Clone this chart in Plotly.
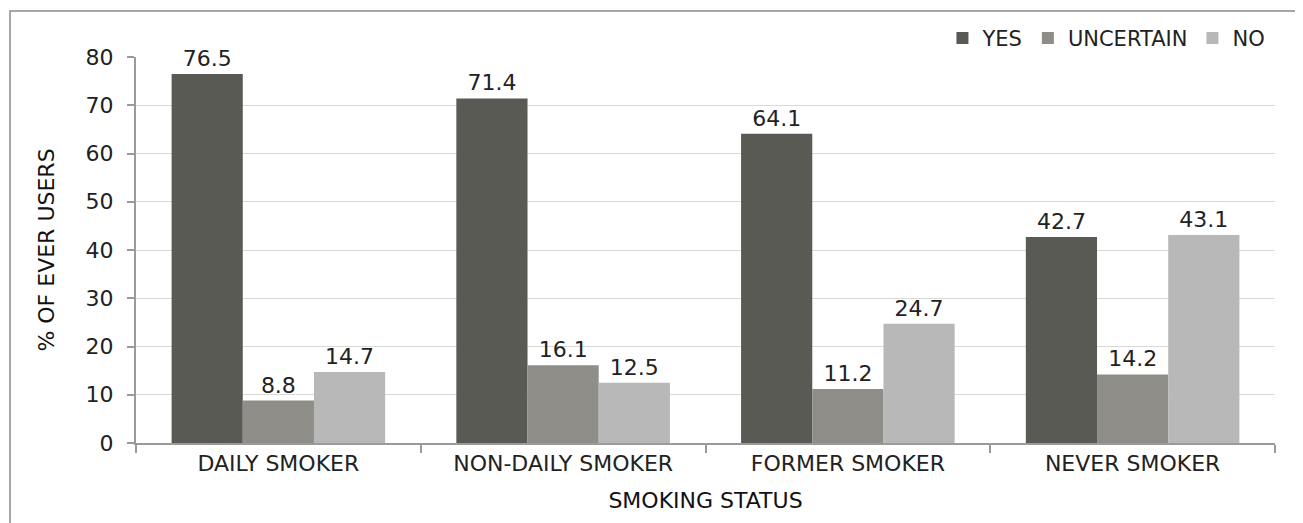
import plotly.graph_objects as go

categories = ["DAILY SMOKER", "NON-DAILY SMOKER", "FORMER SMOKER", "NEVER SMOKER"]
yes_vals = [76.5, 71.4, 64.1, 42.7]
uncertain_vals = [8.8, 16.1, 11.2, 14.2]
no_vals = [14.7, 12.5, 24.7, 43.1]
series_names = ["YES", "UNCERTAIN", "NO"]
colors = ["#5a5a54", "#8e8d87", "#b8b8b8"]

FONT = "DejaVu Sans"
fig = go.Figure()
for name, vals, col in zip(series_names, [yes_vals, uncertain_vals, no_vals], colors):
    fig.add_trace(go.Bar(
        x=categories, y=vals, name=name, marker=dict(color=col, line=dict(width=0)),
        text=[f"{v:.1f}" for v in vals], textposition="outside", cliponaxis=False,
        textfont=dict(family=FONT, size=22, color="#222222"),
    ))

fig.update_layout(
    width=1295, height=515,
    margin=dict(l=128, r=28, t=49, b=80, autoexpand=False),
    paper_bgcolor="white", plot_bgcolor="white",
    barmode="group", bargap=0.25, bargroupgap=0,
    font=dict(family=FONT, size=22, color="#222222"),
    showlegend=True,
    legend=dict(orientation="h", x=0.996, xanchor="right", y=0.995, yanchor="bottom",
                font=dict(family=FONT, size=21, color="#222222"),
                itemwidth=30, traceorder="normal", bgcolor="rgba(0,0,0,0)"),
    xaxis=dict(
        automargin=False,
        showline=True, linecolor="#9a9a9a", linewidth=2,
        ticks="outside", tickson="boundaries", ticklen=8, tickcolor="#9a9a9a", tickwidth=2,
        tickfont=dict(family=FONT, size=22, color="#222222"),
        title=dict(text="SMOKING STATUS", font=dict(family=FONT, size=22, color="#111111"), standoff=17),
    ),
    yaxis=dict(
        automargin=False,
        range=[0, 80], dtick=10,
        showline=True, linecolor="#9a9a9a", linewidth=2,
        ticks="outside", ticklen=7, tickcolor="#9a9a9a", tickwidth=2,
        ticklabelstandoff=9,
        showgrid=True, gridcolor="#d9d9d9", gridwidth=1,
        tickfont=dict(family=FONT, size=22, color="#222222"),
        title=dict(text="% OF EVER USERS", font=dict(family=FONT, size=22, color="#111111"), standoff=25),
        zeroline=False,
    ),
    shapes=[dict(type="rect", xref="paper", yref="paper",
                 x0=(10 - 136) / 1139, x1=(1310 - 136) / 1139,
                 y0=(443 - 530) / 386, y1=(443 - 11) / 386,
                 line=dict(color="#8a8a8a", width=1.5), layer="below")],
)

fig.write_html("out.html")
